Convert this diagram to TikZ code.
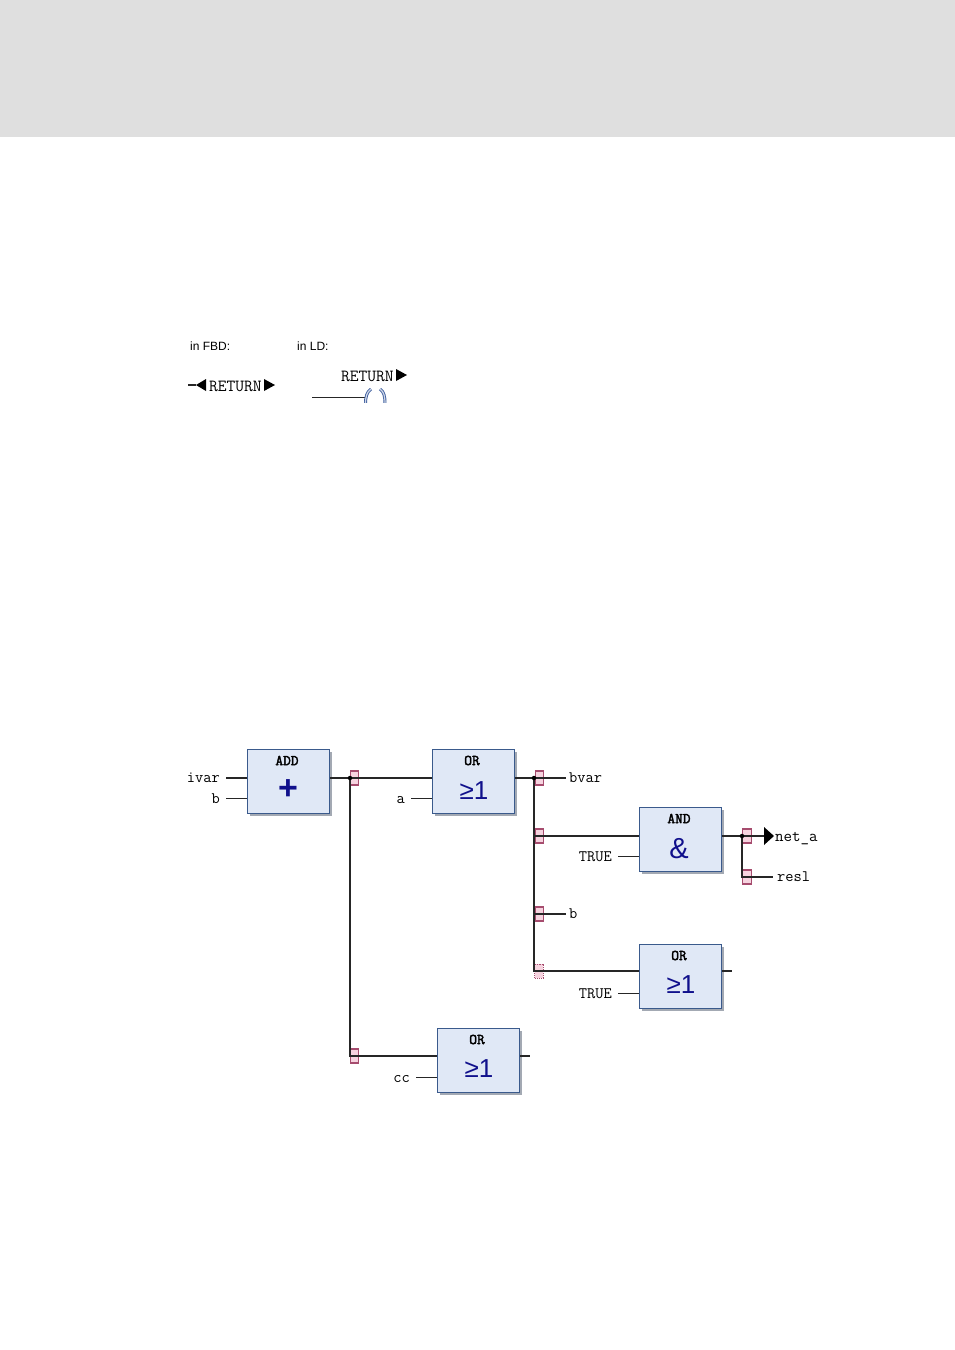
\documentclass[tikz,border=0pt]{standalone}
\usepackage{fontspec}
\setmainfont{Liberation Sans}
\setmonofont{Latin Modern Mono}
\newfontfamily\titlefont[FakeBold=2.5]{Latin Modern Mono}
\usetikzlibrary{shadows}
\definecolor{bandgray}{HTML}{DFDFDF}
\definecolor{blockfill}{HTML}{E0E8F6}
\definecolor{blockedge}{HTML}{3A5A8C}
\definecolor{blockshadow}{HTML}{A3A9B3}
\definecolor{symbolblue}{HTML}{10108C}
\definecolor{pinfill}{HTML}{F6D3DF}
\definecolor{pinedge}{HTML}{A64C6E}
\definecolor{coilblue}{HTML}{3F5F9F}
\tikzset{
  block/.style={draw=blockedge, fill=blockfill, line width=1.4pt, anchor=north west,
    minimum width=82.5pt, minimum height=64pt, inner sep=0pt,
    drop shadow={shadow xshift=2.5pt, shadow yshift=-2.5pt, fill=blockshadow, opacity=1}},
  blocktitle/.style={font=\fontsize{15}{15}\titlefont, inner sep=0pt},
  blocksym/.style={font=\fontsize{26}{26}\selectfont, text=symbolblue, inner sep=0pt},
  sig/.style={font=\fontsize{16}{16}\ttfamily, inner ysep=0pt, text height=9pt, text depth=0pt},
  sigl/.style={sig, anchor=east, inner xsep=6pt},
  sigr/.style={sig, anchor=west, inner xsep=3pt},
  retlbl/.style={sig, anchor=west, inner xsep=0pt, font=\fontsize{17}{17}\ttfamily},
  pin/.style={draw=pinedge, fill=pinfill, line width=1.1pt, minimum width=8.5pt, minimum height=14pt, inner sep=0pt},
  pinoff/.style={pin, densely dotted, line width=0.7pt},
  joint/.style={circle, fill=black, minimum size=4.5pt, inner sep=0pt},
  note/.style={font=\fontsize{12}{12}\selectfont, anchor=west, inner sep=0pt},
  wire/.style={line width=1.1pt, black!85},
  coil/.style={draw=coilblue, line width=0.9pt, double=coilblue!25, double distance=1.2pt},
}
\begin{document}
\begin{tikzpicture}[x=1pt, y=-1pt]
  \useasboundingbox (0,0) rectangle (955,1350);
  \fill[bandgray] (0,0) rectangle (955,137);

  \node[note] (fbdnote) at (190,346) {in FBD:};
  \node[note] (ldnote) at (297,346) {in LD:};

  \node[retlbl] (fbdret) at (209,386.5) {RETURN};
  \coordinate (fbdstub) at (188,385);
  \coordinate (fbdleft) at (196,385);
  \fill (206,379) -- (fbdleft) -- (206,391) -- cycle;
  \draw[wire] (fbdstub) -- (fbdleft);
  \fill (264,379) -- (275,385) -- (264,391) -- cycle;

  \node[retlbl] (ldret) at (341,376.5) {RETURN};
  \fill (396,369) -- (407,375) -- (396,381) -- cycle;
  \coordinate (ldstub) at (312,397.5);
  \coordinate (ldcoil) at (365,397.5);
  \draw[wire] (ldstub) -- (ldcoil);
  \begin{scope}
    \clip (360,388) rectangle (392,402);
    \draw[coil] (365.5,404) .. controls (365.5,396) and (367,392) .. (371,389);
    \draw[coil] (385,404) .. controls (385,396) and (384,392) .. (380,389);
  \end{scope}

  \node[block] (addblk) at (246.5,749) {};
  \node[blocktitle] (addname) at (287,760.5) {ADD};
  \node[blocksym, font=\fontsize{34}{34}\bfseries] (addsym) at (288,790) {+};

  \node[block] (orone) at (431.5,749) {};
  \node[blocktitle] (oronename) at (472,760.5) {OR};
  \node[blocksym] (oronesym) at (474,791) {≥1};

  \node[block] (andblk) at (638.5,807) {};
  \node[blocktitle] (andname) at (679,818.5) {AND};
  \node[blocksym, font=\fontsize{29}{29}\selectfont] (andsym) at (679,849) {\&};

  \node[block] (ortwo) at (638.5,944) {};
  \node[blocktitle] (ortwoname) at (679,955.5) {OR};
  \node[blocksym] (ortwosym) at (681,985) {≥1};

  \node[block] (orthree) at (436.5,1028) {};
  \node[blocktitle] (orthreename) at (477,1039.5) {OR};
  \node[blocksym] (orthreesym) at (479,1069) {≥1};

  \node[pin] (pina) at (354.5,778) {};
  \node[pin] (pinb) at (354.5,1056) {};
  \node[pin] (pinc) at (539.5,778) {};
  \node[pin] (pind) at (539.5,836) {};
  \node[pin] (pine) at (539.5,914) {};
  \node[pinoff] (pinf) at (539,971) {};
  \node[pin] (ping) at (747,836) {};
  \node[pin] (pinh) at (747,877) {};

  \node[sigl] (ivarlbl) at (226,778) {ivar};
  \node[sigl] (blbl) at (226,798.5) {b};
  \node[sigl] (albl) at (411,798.5) {a};
  \node[sigl] (ccl) at (416,1077.5) {cc};
  \node[sigl] (trueone) at (618,856.5) {TRUE};
  \node[sigl] (truetwo) at (618,993.5) {TRUE};
  \node[sigr] (bvarlbl) at (566,778) {bvar};
  \node[sigr] (bbacklbl) at (566,914) {b};
  \node[sigr, inner xsep=4pt] (resllbl) at (773,877) {resl};
  \node[sigr, inner xsep=0pt, font=\fontsize{16.5}{16.5}\ttfamily] (netlbl) at (775,836.5) {net\_a};

  \coordinate (tapa) at (350,778);
  \coordinate (tapb) at (534,778);
  \coordinate (tapc) at (742,836);
  \coordinate (netend) at (765,836);
  \coordinate (ortwoend) at (732,971);
  \coordinate (orthreeend) at (530,1056);

  \draw[wire] (ivarlbl.east) -- (addblk.west |- ivarlbl);
  \draw[wire] (blbl.east) -- (addblk.west |- blbl);
  \draw[wire] (addblk.east |- tapa) -- (orone.west |- tapa);
  \draw[wire] (albl.east) -- (orone.west |- albl);
  \draw[wire] (tapa) -- (tapa |- pinb) -- (orthree.west |- pinb);
  \draw[wire] (ccl.east) -- (orthree.west |- ccl);
  \draw[wire] (orthree.east |- pinb) -- (orthreeend);
  \draw[wire] (orone.east |- tapb) -- (bvarlbl.west);
  \draw[wire] (tapb) -- (tapb |- pinf) -- (ortwo.west |- pinf);
  \draw[wire] (tapb |- pind) -- (andblk.west |- pind);
  \draw[wire] (tapb |- pine) -- (bbacklbl.west);
  \draw[wire] (trueone.east) -- (andblk.west |- trueone);
  \draw[wire] (truetwo.east) -- (ortwo.west |- truetwo);
  \draw[wire] (ortwo.east |- ortwoend) -- (ortwoend);
  \draw[wire] (andblk.east |- tapc) -- (netend);
  \draw[wire] (tapc) -- (tapc |- pinh) -- (resllbl.west);
  \fill (netend) ++(-1,-9) -- ++(10,9) -- ++(-10,9) -- cycle;

  \node[joint] (jointa) at (tapa) {};
  \node[joint] (jointb) at (tapb) {};
  \node[joint] (jointc) at (tapc) {};
\end{tikzpicture}
\end{document}
